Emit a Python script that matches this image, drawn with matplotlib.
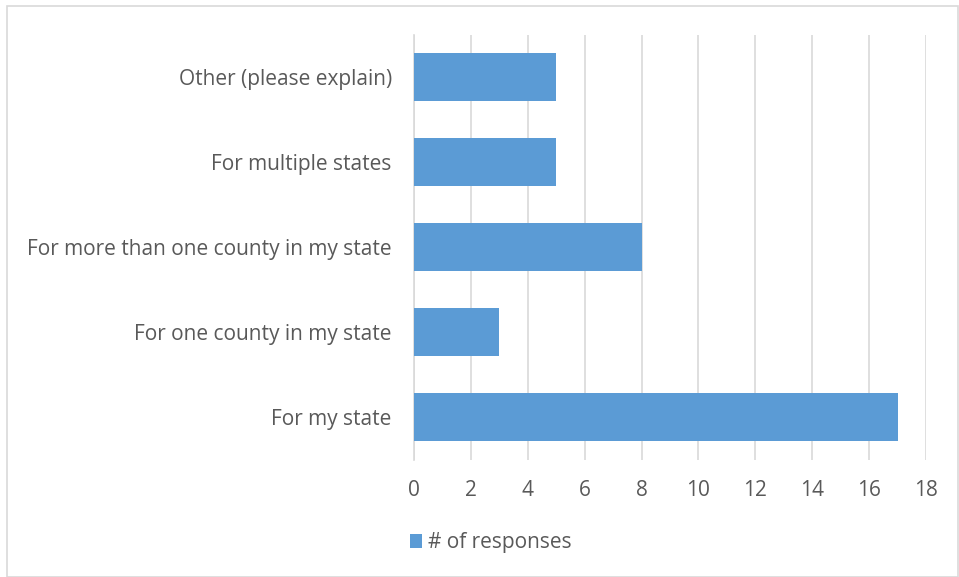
import matplotlib.pyplot as plt
from matplotlib.patches import Rectangle

categories = ["For my state", "For one county in my state",
              "For more than one county in my state", "For multiple states",
              "Other (please explain)"]
responses = [17, 3, 8, 5, 5]
xticks = [0, 2, 4, 6, 8, 10, 12, 14, 16, 18]

bar_color = "#5B9BD5"
text_color = "#595959"
grid_color = "#D9D9D9"

plt.rcParams['font.family'] = ['Open Sans', 'DejaVu Sans']

fig = plt.figure(figsize=(9.59, 5.77), dpi=100)
ax = fig.add_axes([0.4317, 0.2036, 0.5339, 0.7364])

ax.barh(range(len(categories)), responses, height=0.56, color=bar_color,
        label="# of responses", zorder=3)

ax.set_xlim(0, 18)
ax.set_ylim(-0.5, len(categories) - 0.5)
ax.set_xticks(xticks)
ax.set_yticks(range(len(categories)))
ax.set_yticklabels(categories)
ax.tick_params(axis='both', length=0, labelsize=15, colors=text_color)
ax.tick_params(axis='x', pad=15)
ax.tick_params(axis='y', pad=16)
ax.grid(axis='x', color=grid_color, linewidth=1.2, zorder=0)
for s in ['top', 'right', 'bottom']:
    ax.spines[s].set_visible(False)
ax.spines['left'].set_color(grid_color)
ax.spines['left'].set_linewidth(1.2)

leg = ax.legend(loc='center', bbox_to_anchor=(0.15, -0.196), frameon=False,
                fontsize=15, handlelength=0.6, handleheight=0.6,
                handletextpad=0.3)
for t in leg.get_texts():
    t.set_color(text_color)

fig.patches.append(Rectangle((0.007, 0.0), 0.992, 0.99, transform=fig.transFigure,
                             fill=False, edgecolor=grid_color, linewidth=1.2))

fig.savefig("out.png", dpi=100)
